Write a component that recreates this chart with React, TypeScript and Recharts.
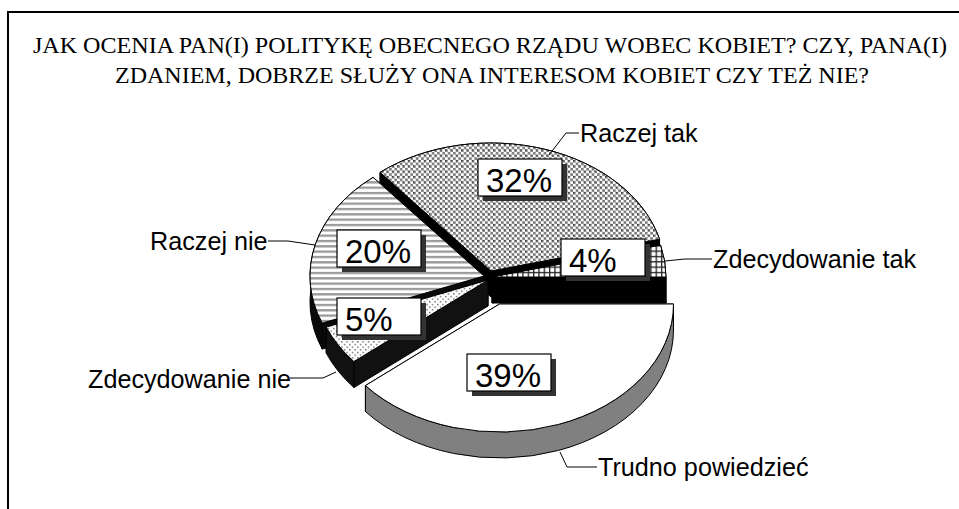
import { Pie, PieChart } from 'recharts';

const categories = ['Raczej tak', 'Raczej nie', 'Zdecydowanie nie', 'Trudno powiedzieć', 'Zdecydowanie tak'];
const percents = [32, 20, 5, 39, 4];
const titleLines = [
  'JAK OCENIA PAN(I) POLITYKĘ OBECNEGO RZĄDU WOBEC KOBIET? CZY, PANA(I)',
  'ZDANIEM, DOBRZE SŁUŻY ONA INTERESOM KOBIET CZY TEŻ NIE?',
];

const chartData = categories.map((name, i) => ({ name, value: percents[i] }));

const SERIF = '"Liberation Serif", "Times New Roman", serif';
const SANS = '"Liberation Sans", Arial, sans-serif';

const PIE_CX = 490;
const PIE_CY = 276;
const RX = 174;
const RY = 128;
const DEPTH = 26;

// slice look, same order as categories
const explode = [
  { dx: 1, dy: -5 },
  { dx: -6, dy: 0 },
  { dx: -2, dy: 4 },
  { dx: 9.5, dy: 28 },
  { dx: 2, dy: 1 },
];
const topFills = ['url(#checker)', 'url(#hlines)', 'url(#dots)', '#ffffff', 'url(#grid)'];
const wallFills = ['#000000', '#0a0a0a', '#111111', '#808080', '#000000'];

const boxes = [
  { x: 478, y: 159 },
  { x: 337, y: 230 },
  { x: 337, y: 298 },
  { x: 467, y: 354 },
  { x: 561, y: 239 },
];
const leaders = [
  '549,155 566,133 579,133',
  '268,241 288,241 315,245',
  '290,378 323,378 336,372',
  '560,452 567,467 597,467',
  '665,261 685,259 712,259',
];
const outerText = [
  { x: 580, y: 142 },
  { x: 150, y: 250 },
  { x: 88, y: 388 },
  { x: 598, y: 476 },
  { x: 713, y: 268 },
];

function pt(cx: number, cy: number, deg: number) {
  const a = (deg * Math.PI) / 180;
  return { x: cx + RX * Math.cos(a), y: cy - RY * Math.sin(a) };
}

function Slice(props: any) {
  const { startAngle, endAngle, index } = props;
  const cx = props.cx + explode[index].dx;
  const cy = props.cy + explode[index].dy;
  const a = pt(cx, cy, startAngle);
  const b = pt(cx, cy, endAngle);
  const large = endAngle - startAngle > 180 ? 1 : 0;
  const top = `M${cx},${cy} L${a.x},${a.y} A${RX},${RY} 0 ${large} 0 ${b.x},${b.y} Z`;
  const d = DEPTH;
  const faceA = `M${cx},${cy} L${a.x},${a.y} L${a.x},${a.y + d} L${cx},${cy + d} Z`;
  const faceB = `M${cx},${cy} L${b.x},${b.y} L${b.x},${b.y + d} L${cx},${cy + d} Z`;
  const band = `M${a.x},${a.y} A${RX},${RY} 0 ${large} 0 ${b.x},${b.y} L${b.x},${b.y + d} A${RX},${RY} 0 ${large} 1 ${a.x},${a.y + d} Z`;
  const wall = wallFills[index];
  return (
    <g>
      <path d={faceA} fill={wall} stroke="#000" />
      <path d={faceB} fill={wall} stroke="#000" />
      <path d={band} fill={wall} stroke="#000" />
      <path d={top} fill={topFills[index]} stroke="#000" />
    </g>
  );
}

function SliceLabel(props: any) {
  const { index, value, name } = props;
  const box = boxes[index];
  const txt = outerText[index];
  return (
    <g>
      <polyline points={leaders[index]} fill="none" stroke="#000" strokeWidth={1} />
      <text x={txt.x} y={txt.y} fontFamily={SANS} fontSize={25.2} fill="#000">
        {name}
      </text>
      <rect x={box.x + 5} y={box.y + 5} width={84} height={37} fill="#333" />
      <rect x={box.x} y={box.y} width={84} height={37} fill="#fff" stroke="#000" strokeWidth={1.2} />
      <text x={box.x + 8} y={box.y + 33} fontFamily={SANS} fontSize={33} fill="#000">
        {`${value}%`}
      </text>
    </g>
  );
}

export default function App() {
  return (
    <div style={{ position: 'absolute', left: 0, top: 0, width: 959, height: 509, background: '#fff' }}>
      <PieChart width={959} height={509} margin={{ top: 0, right: 0, bottom: 0, left: 0 }}>
        <defs>
          <pattern id="checker" width={5.33} height={5.33} patternUnits="userSpaceOnUse">
            <rect width={5.33} height={5.33} fill="#808080" />
            <rect x={0} y={0} width={2.67} height={2.67} fill="#ffffff" />
            <rect x={2.67} y={2.67} width={2.67} height={2.67} fill="#ffffff" />
            <rect x={2.67} y={0} width={1.3} height={1.3} fill="#222222" />
          </pattern>
          <pattern id="grid" width={5.33} height={5.33} patternUnits="userSpaceOnUse">
            <rect width={5.33} height={5.33} fill="#ffffff" />
            <rect x={0} y={0} width={1.3} height={5.33} fill="#222222" />
            <rect x={0} y={0} width={5.33} height={1.3} fill="#222222" />
          </pattern>
          <pattern id="hlines" width={5.33} height={5.33} patternUnits="userSpaceOnUse">
            <rect width={5.33} height={5.33} fill="#ffffff" />
            <rect x={0} y={0} width={5.33} height={2.3} fill="#999999" />
          </pattern>
          <pattern id="dots" width={5.33} height={5.33} patternUnits="userSpaceOnUse">
            <rect width={5.33} height={5.33} fill="#ffffff" />
            <rect x={0} y={0} width={1.4} height={1.4} fill="#666666" />
            <rect x={2.67} y={2.67} width={1.4} height={1.4} fill="#666666" />
          </pattern>
        </defs>
        <line x1={8} y1={12} x2={959} y2={12} stroke="#000" strokeWidth={2} />
        <line x1={8} y1={11} x2={8} y2={509} stroke="#000" strokeWidth={2} />
        <text x={490} y={53} textAnchor="middle" fontFamily={SERIF} fontSize={24.1} fill="#000">
          {titleLines[0]}
        </text>
        <text x={492} y={83} textAnchor="middle" fontFamily={SERIF} fontSize={24} fill="#000">
          {titleLines[1]}
        </text>
        <Pie
          data={chartData}
          dataKey="value"
          nameKey="name"
          cx={PIE_CX}
          cy={PIE_CY}
          innerRadius={0}
          outerRadius={RX}
          startAngle={14.4}
          endAngle={374.4}
          shape={Slice}
          label={SliceLabel}
          labelLine={false}
          isAnimationActive={false}
        />
      </PieChart>
    </div>
  );
}
